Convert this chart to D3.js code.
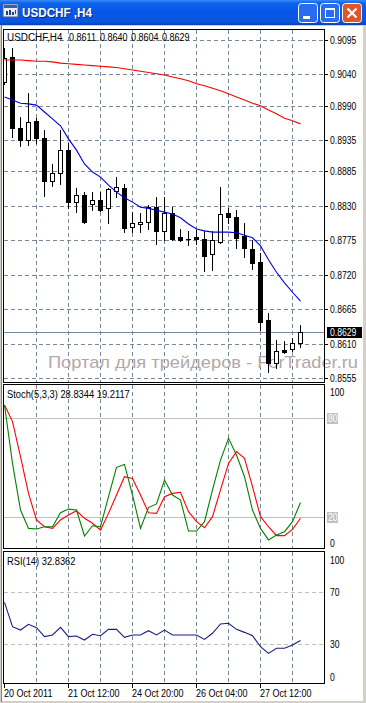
<!DOCTYPE html>
<html><head><meta charset="utf-8">
<script src="https://cdn.jsdelivr.net/npm/d3@7"></script>
<style>
html,body{margin:0;padding:0;background:#fff;}
svg{display:block;}
text{font-family:"Liberation Sans",Arial,sans-serif;}
</style></head><body>
<svg id="c" width="366" height="703"></svg>
<script>
const windowTitle = "USDCHF ,H4";
const symbolLabel = "USDCHF,H4";
const openP  = [0.9028,0.9068,0.8954,0.8935,0.8966,0.8938,0.8870,0.8883,0.8919,0.8836,0.8847,0.8833,0.8839,0.8827,0.8854,0.8859,0.8796,0.8801,0.8804,0.8828,0.8790,0.8819,0.8780,0.8777,0.8780,0.8777,0.8753,0.8772,0.8819,0.8812,0.8782,0.8761,0.8740,0.8648,0.8579,0.8600,0.8601,0.8611];
const highP  = [0.9082,0.9082,0.8972,0.9010,0.8970,0.8951,0.8897,0.8951,0.8931,0.8859,0.8852,0.8852,0.8852,0.8858,0.8876,0.8865,0.8820,0.8819,0.8831,0.8844,0.8844,0.8828,0.8793,0.8790,0.8791,0.8790,0.8790,0.8860,0.8827,0.8823,0.8803,0.8776,0.8755,0.8659,0.8616,0.8614,0.8619,0.8640];
const lowP   = [0.9025,0.8940,0.8926,0.8927,0.8931,0.8846,0.8862,0.8865,0.8827,0.8820,0.8803,0.8823,0.8822,0.8803,0.8844,0.8788,0.8788,0.8788,0.8793,0.8769,0.8776,0.8776,0.8774,0.8768,0.8769,0.8726,0.8728,0.8771,0.8803,0.8763,0.8748,0.8729,0.8632,0.8565,0.8571,0.8595,0.8598,0.8604];
const closeP = [0.9066,0.8954,0.8935,0.8964,0.8938,0.8870,0.8883,0.8919,0.8836,0.8847,0.8804,0.8839,0.8823,0.8857,0.8860,0.8795,0.8803,0.8804,0.8828,0.8790,0.8819,0.8777,0.8776,0.8777,0.8777,0.8750,0.8776,0.8817,0.8812,0.8779,0.8763,0.8739,0.8645,0.8579,0.8598,0.8597,0.8611,0.8629];
const maSlow = [0.9063,0.9063,0.9063,0.9062,0.9061,0.9061,0.9060,0.9058,0.9057,0.9056,0.9055,0.9054,0.9053,0.9052,0.9051,0.9049,0.9047,0.9045,0.9043,0.9041,0.9039,0.9036,0.9033,0.9030,0.9025,0.9022,0.9018,0.9014,0.9009,0.9004,0.8999,0.8994,0.8990,0.8983,0.8977,0.8970,0.8966,0.8961];
const maFast = [0.9004,0.8999,0.8994,0.8993,0.8991,0.8980,0.8969,0.8958,0.8937,0.8919,0.8897,0.8884,0.8876,0.8863,0.8852,0.8843,0.8836,0.8828,0.8826,0.8823,0.8820,0.8817,0.8811,0.8801,0.8793,0.8790,0.8788,0.8788,0.8788,0.8787,0.8783,0.8779,0.8766,0.8744,0.8724,0.8707,0.8692,0.8678];
const stochMain   = [87.9,52.5,24.2,13.1,12.7,14.1,14.1,22.6,24.8,24.2,8.5,14.7,14.1,32.3,50.1,51.9,33.3,13.1,25.7,27.9,42.4,33.3,30.3,11.5,11.5,17.2,36.4,54.5,67.7,57.6,44.4,24.2,13.1,6.1,9.1,11.1,17.2,28.8344];
const stochSignal = [87.9,77.8,56.6,34.3,18.2,14.1,13.1,18.2,21.2,23.8,19.2,16.2,12.1,22.2,33.3,44.4,43.4,33.3,22.6,22.2,32.3,34.3,35.0,23.2,17.2,13.5,20.2,36.4,52.5,59.6,55.6,38.4,20.2,14.1,8.7,8.7,12.5,19.2117];
const rsiValues   = [62.3,43.5,40.9,45.3,42.7,35.8,37.1,43.0,35.8,36.3,33.2,37.6,36.5,41.4,41.4,35.3,37.1,37.1,40.4,37.1,40.9,37.1,37.1,37.1,37.1,33.7,38.4,45.6,46.1,41.4,39.1,36.5,28.0,22.9,26.8,26.8,29.3,32.8362];
const priceTicks  = [0.9095,0.9040,0.8990,0.8935,0.8885,0.8830,0.8775,0.8720,0.8665,0.8610,0.8555];
const timeLabels  = ["20 Oct 2011","21 Oct 12:00","24 Oct 20:00","26 Oct 04:00","27 Oct 12:00"];
const timeLabelBars = [0,8,16,24,32];
const gridBars    = [4,8,12,16,20,24,28,32,36];
const stochLevels = [80,20];
const rsiLevels   = [70,30];
const lastPrice   = 0.8629;
const stochTitle  = "Stoch(5,3,3) 28.8344 19.2117";
const rsiTitle    = "RSI(14) 32.8362";
const watermark   = "Портал для трейдеров - ForTrader.ru";

const svg = d3.select("#c");
const N = openP.length;
const fmt = d3.format(".4f");
const GRID = "#778899";
const SX = 0.82;

const L = 3.5, R = 324.5;
const mainTop = 29.5, mainBot = 382.5;
const stTop = 384.5, stBot = 548.5;
const rsTop = 551.5, rsBot = 683.5;

const x  = d3.scaleLinear().domain([0, N-1]).range([4.5, 4.5 + 8*(N-1)]);
const y  = d3.scaleLinear().domain([0.8555, 0.9095]).range([378, 40]);
const ys = d3.scaleLinear().domain([0, 100]).range([550, 385]);
const yr = d3.scaleLinear().domain([0, 100]).range([683, 553.5]);

function txt(g, tx, ty, s, size, fill, sx){
  return g.append("text").attr("transform",`translate(${tx},${ty}) scale(${sx||SX},1)`)
    .attr("font-size",size).attr("fill",fill||"#000").text(s);
}

svg.append("rect").attr("width",366).attr("height",703).attr("fill","#d4d0c8");
svg.append("rect").attr("x",2).attr("y",26).attr("width",361).attr("height",675).attr("fill","#ffffff");
svg.append("line").attr("x1",1.5).attr("x2",1.5).attr("y1",25).attr("y2",702).attr("stroke","#808080");

const defs = svg.append("defs");
const g1 = defs.append("linearGradient").attr("id","tb").attr("x1",0).attr("x2",0).attr("y1",0).attr("y2",1);
[[0,"#3b8cf7"],[0.12,"#0c63ee"],[0.5,"#0757e6"],[0.88,"#0a55e0"],[1,"#0840b8"]].forEach(s=>g1.append("stop").attr("offset",s[0]).attr("stop-color",s[1]));
svg.append("rect").attr("x",0).attr("y",0).attr("width",366).attr("height",25).attr("fill","url(#tb)");
const ic = svg.append("g").attr("transform","translate(3,4)");
ic.append("rect").attr("width",15).attr("height",13).attr("fill","#e8eef8").attr("stroke","#506080");
ic.append("rect").attr("x",1).attr("y",1).attr("width",13).attr("height",3).attr("fill","#3060c0");
[[3,7,2,4],[6,6,2,5],[9,8,2,3],[12,6,1,4]].forEach(b=>ic.append("rect").attr("x",b[0]).attr("y",b[1]).attr("width",b[2]).attr("height",b[3]).attr("fill","#204080"));
svg.append("text").attr("x",23).attr("y",18).attr("fill","#0a2a80").attr("font-size",13).attr("font-weight","bold").attr("textLength",70).attr("lengthAdjust","spacingAndGlyphs").text(windowTitle);
svg.append("text").attr("x",22).attr("y",17).attr("fill","#ffffff").attr("font-size",13).attr("font-weight","bold").attr("textLength",70).attr("lengthAdjust","spacingAndGlyphs").text(windowTitle);
function btn(bx, color){
  const g = svg.append("g").attr("transform",`translate(${bx},3)`);
  g.append("rect").attr("x",0.5).attr("y",0.5).attr("width",19).attr("height",19).attr("rx",3).attr("fill",color).attr("stroke","#ffffff");
  return g;
}
const b1 = btn(298,"#2a6cf0"); b1.append("rect").attr("x",5).attr("y",13).attr("width",7).attr("height",3).attr("fill","#fff");
const b2 = btn(320,"#2a6cf0"); b2.append("rect").attr("x",5.5).attr("y",5.5).attr("width",9).attr("height",9).attr("fill","none").attr("stroke","#fff"); b2.append("rect").attr("x",5).attr("y",5).attr("width",10).attr("height",2).attr("fill","#fff");
const b3 = btn(342,"#e0542c");
b3.append("path").attr("d","M5.5,5.5 L14.5,14.5 M14.5,5.5 L5.5,14.5").attr("stroke","#fff").attr("stroke-width",2.2);

defs.append("clipPath").attr("id","cm").append("rect").attr("x",4).attr("y",30).attr("width",320).attr("height",352);
defs.append("clipPath").attr("id","cs").append("rect").attr("x",4).attr("y",385).attr("width",320).attr("height",163);
defs.append("clipPath").attr("id","cr").append("rect").attr("x",4).attr("y",552).attr("width",320).attr("height",131);

[[mainTop,mainBot],[stTop,stBot],[rsTop,rsBot]].forEach(([t,b])=>{
  svg.append("g").selectAll("line").data(gridBars).join("line")
    .attr("x1",d=>x(d)).attr("x2",d=>x(d)).attr("y1",t).attr("y2",b)
    .attr("stroke",GRID).attr("stroke-dasharray","4,3").attr("shape-rendering","crispEdges");
});
svg.append("g").selectAll("line").data(priceTicks).join("line")
  .attr("x1",L).attr("x2",R).attr("y1",d=>Math.round(y(d))+0.5).attr("y2",d=>Math.round(y(d))+0.5)
  .attr("stroke",GRID).attr("stroke-dasharray","4,3").attr("shape-rendering","crispEdges");

svg.append("text").attr("x",48).attr("y",368).attr("font-size",17).attr("fill","#b3a7a7")
  .attr("textLength",310).attr("lengthAdjust","spacingAndGlyphs").text(watermark);

svg.append("line").attr("x1",L).attr("x2",R).attr("y1",Math.round(y(lastPrice))+0.5).attr("y2",Math.round(y(lastPrice))+0.5)
  .attr("stroke",GRID).attr("shape-rendering","crispEdges");

const cg = svg.append("g").attr("clip-path","url(#cm)").attr("shape-rendering","crispEdges");
d3.range(N).forEach(i=>{
  const o=openP[i], h=highP[i], l=lowP[i], c=closeP[i];
  const cx = x(i);
  cg.append("line").attr("x1",cx).attr("x2",cx).attr("y1",Math.round(y(h))).attr("y2",Math.round(y(l))+1).attr("stroke","#000");
  const yt = Math.round(y(Math.max(o,c))), yb = Math.round(y(Math.min(o,c)));
  if (yb - yt < 1) {
    cg.append("line").attr("x1",cx-2.5).attr("x2",cx+2.5).attr("y1",yt+0.5).attr("y2",yt+0.5).attr("stroke","#000");
  } else if (c >= o) {
    cg.append("rect").attr("x",cx-2).attr("y",yt+0.5).attr("width",4).attr("height",yb-yt).attr("fill","#fff").attr("stroke","#000");
  } else {
    cg.append("rect").attr("x",cx-2.5).attr("y",yt).attr("width",5).attr("height",yb-yt+1).attr("fill","#000");
  }
});
const priceLine = d3.line().x((d,i)=>x(i)).y(d=>y(d));
cg.append("path").datum(maSlow).attr("d",priceLine).attr("fill","none").attr("stroke","#ff0000").attr("stroke-width",1.1).attr("shape-rendering","auto");
cg.append("path").datum(maFast).attr("d",priceLine).attr("fill","none").attr("stroke","#0000e0").attr("stroke-width",1.1).attr("shape-rendering","auto");

svg.append("g").selectAll("line").data(stochLevels).join("line")
  .attr("x1",L).attr("x2",R).attr("y1",d=>Math.round(ys(d))+0.5).attr("y2",d=>Math.round(ys(d))+0.5)
  .attr("stroke","#c0c0c0").attr("shape-rendering","crispEdges");
const sg = svg.append("g").attr("clip-path","url(#cs)");
const stLine = d3.line().x((d,i)=>x(i)).y(d=>ys(d));
sg.append("path").datum(stochSignal).attr("d",stLine).attr("fill","none").attr("stroke","#ff0000").attr("stroke-width",1.1);
sg.append("path").datum(stochMain).attr("d",stLine).attr("fill","none").attr("stroke","#008000").attr("stroke-width",1.1);

svg.append("g").selectAll("line").data(rsiLevels).join("line")
  .attr("x1",L).attr("x2",R).attr("y1",d=>Math.round(yr(d))+0.5).attr("y2",d=>Math.round(yr(d))+0.5)
  .attr("stroke","#c0c0c0").attr("stroke-dasharray","4,3").attr("shape-rendering","crispEdges");
const rg = svg.append("g").attr("clip-path","url(#cr)");
rg.append("path").datum(rsiValues).attr("d",d3.line().x((d,i)=>x(i)).y(d=>yr(d))).attr("fill","none").attr("stroke","#1c1c80").attr("stroke-width",1.1);

[[mainTop,mainBot],[stTop,stBot],[rsTop,rsBot]].forEach(([t,b])=>{
  svg.append("rect").attr("x",L).attr("y",t).attr("width",R-L).attr("height",b-t)
    .attr("fill","none").attr("stroke","#000").attr("shape-rendering","crispEdges");
});

const info = svg.append("g");
txt(info, 7, 41, symbolLabel, 11, "#000", 0.9);
[openP[N-1],highP[N-1],lowP[N-1],closeP[N-1]].forEach((v,k)=>txt(info, 69+31*k, 41, fmt(v), 11));
txt(info, 7, 398, stochTitle, 11, "#000", 0.85);
txt(info, 7, 565, rsiTitle, 11, "#000", 0.85);

const ax = svg.append("g");
priceTicks.forEach(p=>{
  const yy = Math.round(y(p));
  ax.append("line").attr("x1",325).attr("x2",328).attr("y1",yy+0.5).attr("y2",yy+0.5).attr("stroke","#000").attr("shape-rendering","crispEdges");
  txt(ax, 330, yy+4, fmt(p), 10.5);
});
const ly = Math.round(y(lastPrice));
ax.append("rect").attr("x",327).attr("y",ly-5).attr("width",35).attr("height",11).attr("fill","#000");
txt(ax, 330, ly+4, fmt(lastPrice), 10.5, "#fff");

[[100,396],[0,547]].forEach(([v,b])=>txt(ax, 330, b, String(v), 10.5));
stochLevels.forEach(v=>{
  const yy = Math.round(ys(v));
  ax.append("rect").attr("x",327).attr("y",yy-5).attr("width",11).attr("height",11).attr("fill","#c0c0c0");
  txt(ax, 328, yy+4, String(v), 10.5, "#ffffff");
});
[[100,564],[70,596],[30,648],[0,681]].forEach(([v,b])=>txt(ax, 330, b, String(v), 10.5));

timeLabelBars.forEach((b,k)=>{
  const xx = x(b);
  ax.append("line").attr("x1",xx).attr("x2",xx).attr("y1",684).attr("y2",688).attr("stroke","#000").attr("shape-rendering","crispEdges");
  txt(ax, xx-0.5, 697, timeLabels[k], 11);
});
</script>
</body></html>
